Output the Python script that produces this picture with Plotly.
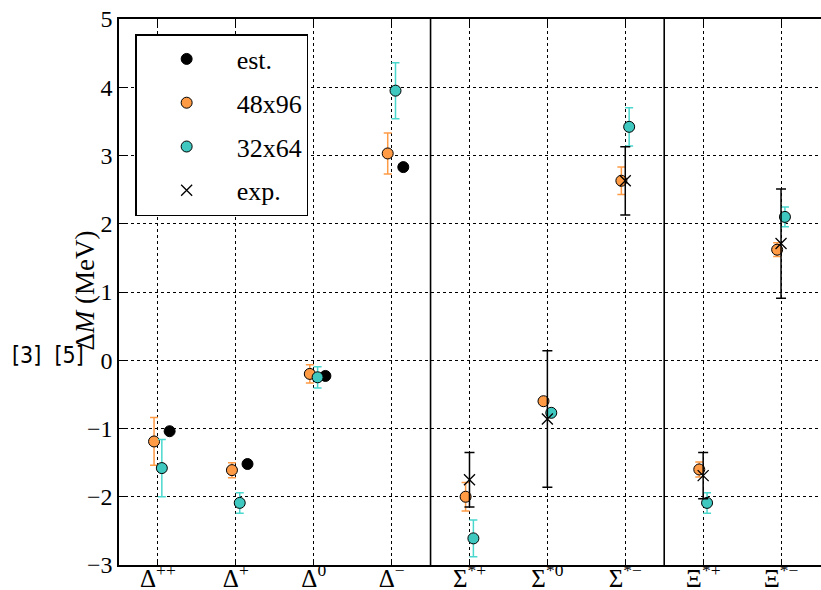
import plotly.graph_objects as go

# ---------------- data ----------------
categories = ["Δ<sup>++</sup>", "Δ<sup>+</sup>", "Δ<sup>0</sup>", "Δ<sup>−</sup>",
              "Σ<sup>*+</sup>", "Σ<sup>*0</sup>", "Σ<sup>*−</sup>",
              "Ξ<sup>*+</sup>", "Ξ<sup>*−</sup>"]
group_sizes = [4, 3, 2]   # Δ, Σ*, Ξ*

est_idx = [0, 1, 2, 3]
est_val = [-1.04, -1.52, -0.23, 2.83]

l48_idx = [0, 1, 2, 3, 4, 5, 6, 7, 8]
l48_val = [-1.19, -1.61, -0.20, 3.03, -2.00, -0.60, 2.63, -1.60, 1.62]
l48_err = [0.35, 0.11, 0.135, 0.30, 0.21, 0.0, 0.20, 0.11, 0.10]

l32_idx = [0, 1, 2, 3, 4, 5, 6, 7, 8]
l32_val = [-1.58, -2.09, -0.25, 3.95, -2.61, -0.77, 3.42, -2.09, 2.10]
l32_err = [0.42, 0.15, 0.155, 0.41, 0.27, 0.0, 0.28, 0.15, 0.145]

exp_idx = [4, 5, 6, 7, 8]
exp_val = [-1.75, -0.86, 2.63, -1.69, 1.71]
exp_err = [0.40, 1.00, 0.50, 0.34, 0.80]

yticks = [-3, -2, -1, 0, 1, 2, 3, 4, 5]

# ---------------- style ----------------
ORANGE = "#FF9A45"
ORANGE_E = "#FF9A45"
CYAN = "#3EC8C0"
CYAN_E = "#4AD8CE"
SERIF = "Liberation Serif"

off48, off32, offest = -0.05, 0.05, 0.15

fig = go.Figure()

fig.add_trace(go.Scatter(
    x=[i + offest for i in est_idx], y=est_val, mode="markers", name="est.",
    marker=dict(color="black", size=11, line=dict(color="black", width=1)),
    legendgroup="a"))

fig.add_trace(go.Scatter(
    x=[i + off48 for i in l48_idx], y=l48_val, mode="markers", name="48x96",
    marker=dict(color=ORANGE, size=11, line=dict(color="black", width=1)),
    error_y=dict(type="data", array=l48_err, color=ORANGE_E, thickness=1.5, width=4),
    legendgroup="b"))

fig.add_trace(go.Scatter(
    x=[i + off32 for i in l32_idx], y=l32_val, mode="markers", name="32x64",
    marker=dict(color=CYAN, size=11, line=dict(color="black", width=1)),
    error_y=dict(type="data", array=l32_err, color=CYAN_E, thickness=1.5, width=4),
    legendgroup="c"))

fig.add_trace(go.Scatter(
    x=exp_idx, y=exp_val, mode="markers", name="exp.",
    marker=dict(color="black", size=11, symbol="x-thin-open",
                line=dict(color="black", width=1.3)),
    error_y=dict(type="data", array=exp_err, color="black", thickness=1.5, width=5),
    legendgroup="d"))

# separators between baryon groups
pos = -0.5
for g in group_sizes[:-1]:
    pos += g
    fig.add_shape(type="line", xref="x", yref="paper", x0=pos, x1=pos, y0=0, y1=1,
                  line=dict(color="black", width=1.6), layer="above")

fig.add_annotation(text="Δ<i>M</i> (MeV)", xref="paper", yref="paper",
                   x=-0.049, y=0.502, textangle=-90, showarrow=False,
                   xanchor="center", yanchor="middle",
                   font=dict(family=SERIF, size=27, color="black"))

fig.add_annotation(text="[3]  [5]", xref="paper", yref="paper",
                   x=-0.155, y=0.385, showarrow=False, xanchor="left", yanchor="middle",
                   font=dict(family="Liberation Sans Narrow, DejaVu Sans Condensed, sans-serif",
                             size=23, color="black"))

n = len(categories)
fig.update_layout(
    width=821, height=590,
    margin=dict(l=119, r=0, t=19, b=25, autoexpand=False),
    plot_bgcolor="white", paper_bgcolor="white",
    showlegend=True,
    legend=dict(x=0.023, y=0.9725, xanchor="left", yanchor="top",
                bgcolor="white", bordercolor="black", borderwidth=1.5,
                font=dict(family=SERIF, size=26, color="black"),
                itemwidth=90, tracegroupgap=7,
                traceorder="grouped"),
    xaxis=dict(range=[-0.5, n - 0.5 + 0.013], tickmode="array",
               tickvals=list(range(n)), ticktext=categories,
               showgrid=True, gridcolor="black", griddash="dot", gridwidth=1,
               showline=True, linecolor="black", linewidth=1.5, mirror="ticks",
               ticks="inside", ticklen=6, tickcolor="black",
               tickfont=dict(family=SERIF, size=25, color="black"),
               ticklabelstandoff=-10, automargin=False,
               zeroline=False),
    yaxis=dict(range=[-3, 5], tickmode="array", tickvals=yticks,
               showgrid=True, gridcolor="black", griddash="dot", gridwidth=1,
               showline=True, linecolor="black", linewidth=1.5, mirror=False,
               ticks="inside", ticklen=6, tickcolor="black",
               tickfont=dict(family=SERIF, size=24, color="black"),
               automargin=False,
               zeroline=False),
)

fig.write_html("out.html", config={"displayModeBar": False},
               post_script="document.body.style.margin='0';")
